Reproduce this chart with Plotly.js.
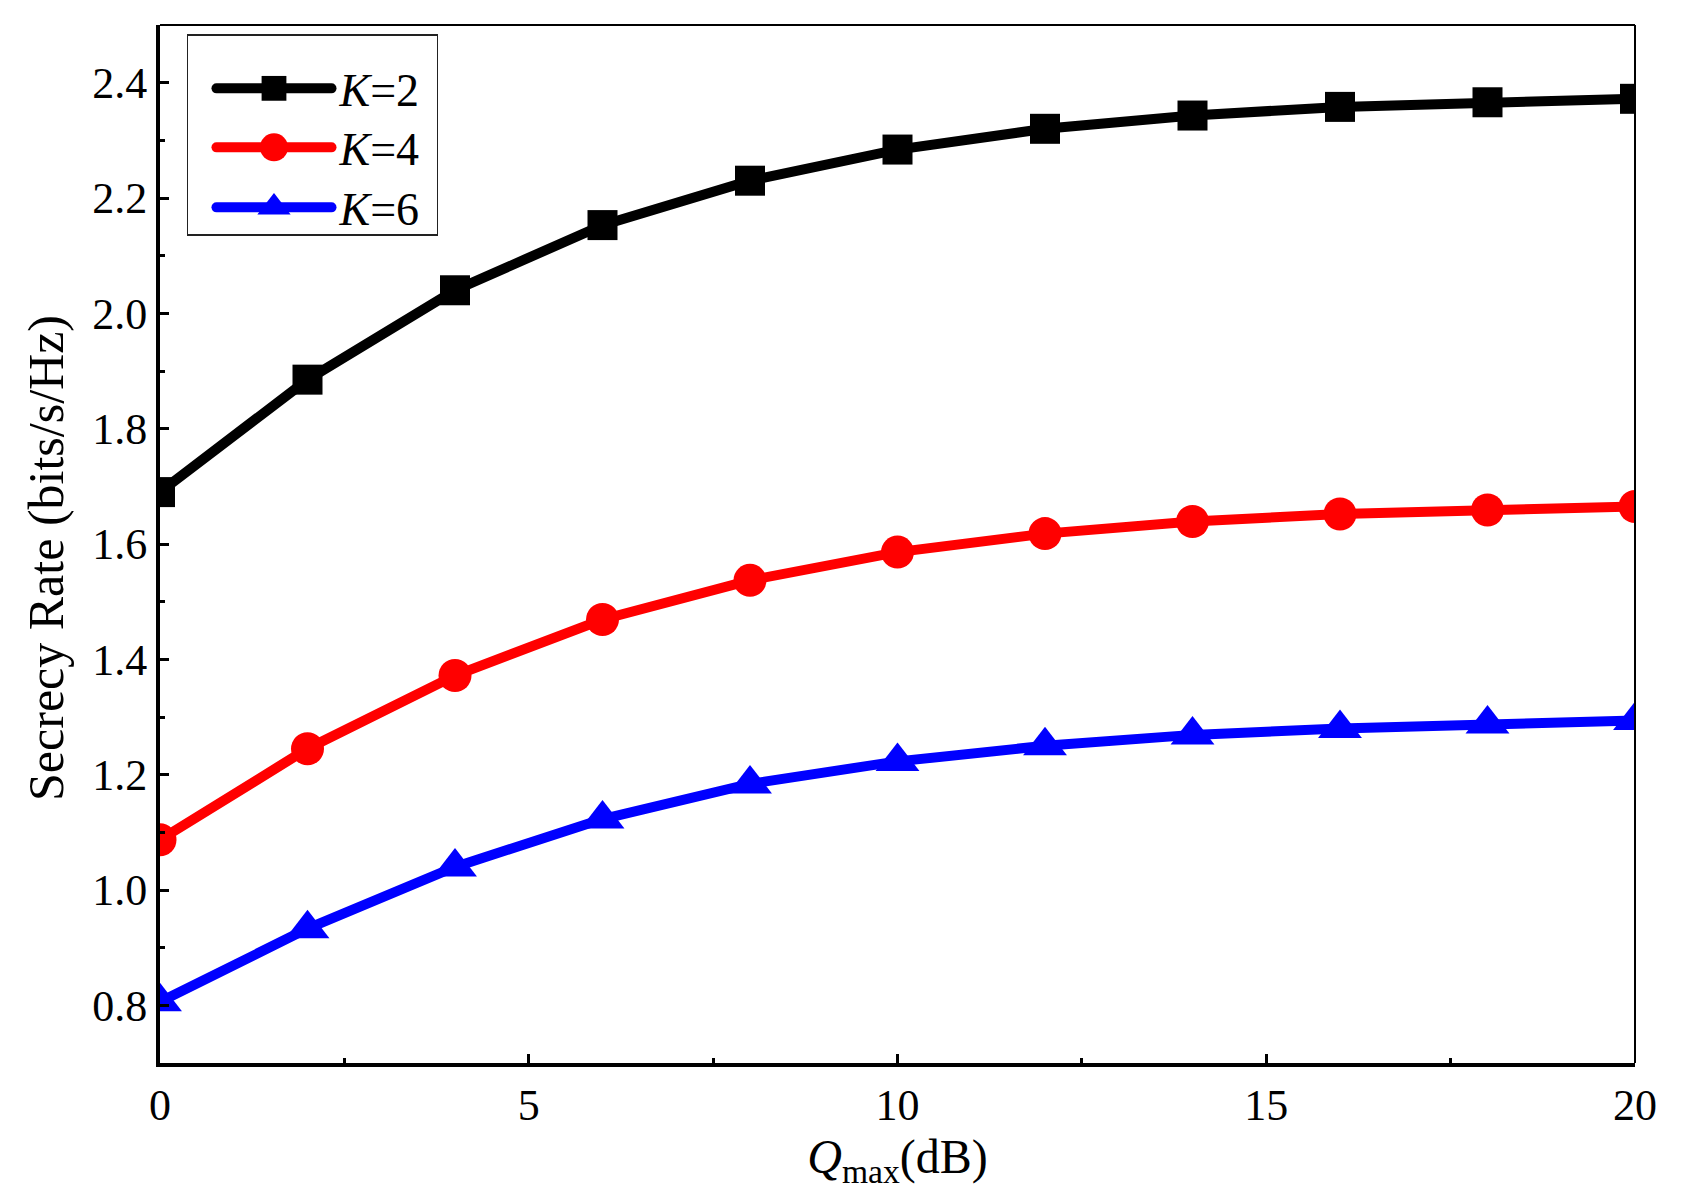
<!DOCTYPE html>
<html>
<head>
<meta charset="utf-8">
<script src="https://cdn.plot.ly/plotly-3.0.1.min.js"></script>
<style>
  html, body { margin: 0; padding: 0; background: #fff; }
  #chart { width: 1696px; height: 1192px; }
</style>
</head>
<body>
<div id="chart"></div>
<script>
// Maximum transmit power Q_max in dB
const qmax = [0, 2, 4, 6, 8, 10, 12, 14, 16, 18, 20];

// Secrecy rate (bits/s/Hz) for each number of users K
const rateK2 = [1.69, 1.885, 2.04, 2.153, 2.23, 2.284, 2.32, 2.343, 2.358, 2.366, 2.372];
const rateK4 = [1.087, 1.245, 1.372, 1.469, 1.537, 1.586, 1.618, 1.639, 1.652, 1.659, 1.665];
const rateK6 = [0.806, 0.933, 1.04, 1.123, 1.184, 1.223, 1.25, 1.269, 1.28, 1.288, 1.294];

const seriesNames = ['<i>K</i>=2', '<i>K</i>=4', '<i>K</i>=6'];
const yTickVals = [0.8, 1.0, 1.2, 1.4, 1.6, 1.8, 2.0, 2.2, 2.4];
const xTickVals = [0, 5, 10, 15, 20];

const FONT = '"Liberation Serif", "Times New Roman", serif';

function series(y, name, color, symbol, size) {
  return {
    x: qmax, y: y, name: name, type: 'scatter', mode: 'lines+markers',
    line: { color: color, width: 10 },
    marker: { color: color, symbol: symbol, size: size },
    cliponaxis: true
  };
}

const traces = [
  series(rateK2, seriesNames[0], '#000000', 'square', 30),
  series(rateK4, seriesNames[1], '#ff0000', 'circle', 33),
  series(rateK6, seriesNames[2], '#0000ff', 'triangle-up', 38)
];

const layout = {
  width: 1696, height: 1192,
  margin: { l: 160, r: 61, t: 25, b: 129 },
  paper_bgcolor: '#ffffff', plot_bgcolor: '#ffffff',
  font: { family: FONT, size: 44, color: '#000' },
  showlegend: true,
  legend: {
    x: 0.0183, y: 0.991, xanchor: 'left', yanchor: 'top',
    bgcolor: 'rgba(255,255,255,0)', bordercolor: '#222', borderwidth: 1.5,
    font: { family: FONT, size: 46, color: '#000' },
    itemwidth: 115, tracegroupgap: 0
  },
  xaxis: {
    range: [0, 20], tickvals: xTickVals, ticktext: xTickVals.map(String),
    ticks: 'inside', ticklen: 9, tickwidth: 3, tickcolor: '#000',
    minor: { ticks: 'inside', dtick: 2.5, ticklen: 5, tickwidth: 3, tickcolor: '#000' },
    showline: true, linewidth: 4, linecolor: '#000', mirror: false,
    showgrid: false, zeroline: false,
    tickfont: { family: FONT, size: 44 },
    title: { text: '<i>Q</i><sub>max</sub>(dB)', font: { family: FONT, size: 48 }, standoff: 2 }
  },
  yaxis: {
    range: [0.7, 2.5], tickvals: yTickVals, ticktext: yTickVals.map(v => v.toFixed(1)),
    ticks: 'inside', ticklen: 9, tickwidth: 3, tickcolor: '#000',
    minor: { ticks: 'inside', dtick: 0.1, tick0: 0.7, ticklen: 5, tickwidth: 3, tickcolor: '#000' },
    showline: true, linewidth: 4, linecolor: '#000', mirror: false,
    showgrid: false, zeroline: false,
    tickfont: { family: FONT, size: 44 },
    title: { text: 'Secrecy Rate (bits/s/Hz)', font: { family: FONT, size: 50 }, standoff: 14 }
  },
  shapes: [
    // thin frame on the top and right sides
    { type: 'line', xref: 'paper', yref: 'paper', x0: 0, x1: 1, y0: 1, y1: 1, line: { color: '#000', width: 2 } },
    { type: 'line', xref: 'paper', yref: 'paper', x0: 1, x1: 1, y0: 0, y1: 1, line: { color: '#000', width: 2 } }
  ]
};

// Legend styling: larger symbols, rounded line caps, roomier box
const legendRowY = [54, 113, 173];
const legendMarkerScale = [1.55, 1.75, 1.8];
const legendBox = { w: 250, h: 200 };
const legendSymbolShift = 23;
const legendTextShift = 26;
const yTitleShift = 14;

Plotly.newPlot('chart', traces, layout, { displayModeBar: false, staticPlot: true }).then(function (gd) {
  // y-axis title sits slightly below the plot's vertical centre
  const ytitle = gd.querySelector('g.g-ytitle');
  if (ytitle) ytitle.setAttribute('transform', 'translate(0,' + yTitleShift + ')');

  const legend = gd.querySelector('g.legend');
  if (!legend) return;
  const bg = legend.querySelector('rect.bg');
  if (bg) {
    bg.setAttribute('width', legendBox.w);
    bg.setAttribute('height', legendBox.h);
  }
  legend.querySelectorAll('[clip-path]').forEach(function (el) {
    el.removeAttribute('clip-path');
  });
  legend.querySelectorAll('g.traces').forEach(function (g, i) {
    const m = /translate\(\s*([-\d.]+)[ ,]+([-\d.]+)/.exec(g.getAttribute('transform') || '');
    const tx = m ? parseFloat(m[1]) : 0;
    g.setAttribute('transform', 'translate(' + tx + ',' + legendRowY[i] + ')');
    const layers = g.querySelector('g.layers');
    if (layers) layers.setAttribute('transform', 'translate(' + legendSymbolShift + ',0)');
    const txt = g.querySelector('text.legendtext');
    if (txt) txt.setAttribute('x', parseFloat(txt.getAttribute('x') || 0) + legendTextShift);
    g.querySelectorAll('path.js-line').forEach(function (p) {
      p.style.strokeLinecap = 'round';
    });
    g.querySelectorAll('path.scatterpts').forEach(function (p) {
      const t = p.getAttribute('transform') || '';
      p.setAttribute('transform', t + ' scale(' + legendMarkerScale[i] + ')');
    });
  });
});
</script>
</body>
</html>
